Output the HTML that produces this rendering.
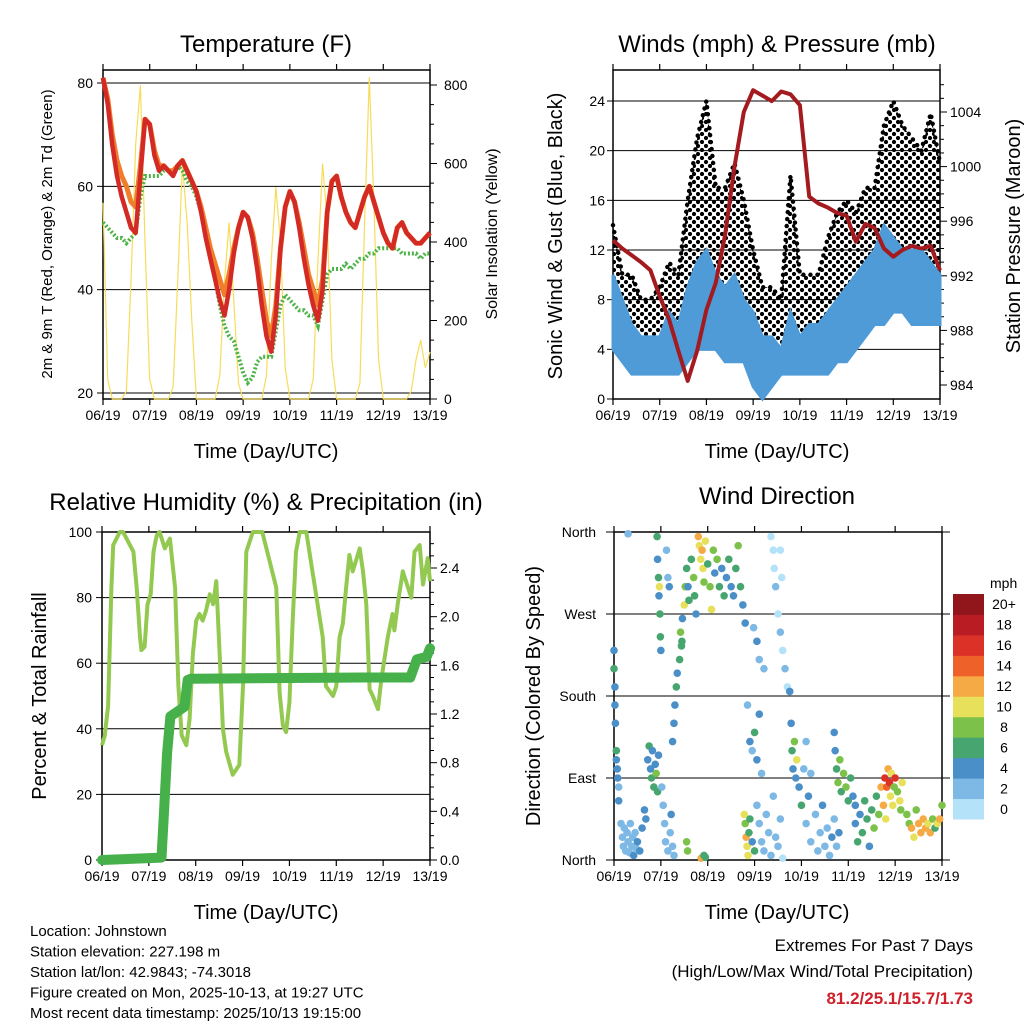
<!DOCTYPE html>
<html><head><meta charset="utf-8">
<style>
html,body{margin:0;padding:0;background:#fff;}
svg{display:block;font-family:"Liberation Sans",sans-serif;}
</style></head>
<body>
<svg id="c" width="1024" height="1024" viewBox="0 0 1024 1024" xmlns="http://www.w3.org/2000/svg">
<defs>
<pattern id="gustdots" patternUnits="userSpaceOnUse" width="8" height="8">
<circle cx="2" cy="2" r="2.1" fill="#000"/>
<circle cx="6" cy="6" r="2.1" fill="#000"/>
</pattern>
</defs>
<rect width="1024" height="1024" fill="#fff"/>
<text x="266" y="52" font-size="24" text-anchor="middle">Temperature (F)</text>
<text x="777" y="52" font-size="24" text-anchor="middle">Winds (mph) &amp; Pressure (mb)</text>
<text x="266" y="510" font-size="24" text-anchor="middle">Relative Humidity (%) &amp; Precipitation (in)</text>
<text x="777" y="504" font-size="24" text-anchor="middle">Wind Direction</text>
<text transform="translate(52,234) rotate(-90)" font-size="15" text-anchor="middle">2m &amp; 9m T (Red, Orange) &amp; 2m Td (Green)</text>
<text transform="translate(497,234) rotate(-90)" font-size="16" text-anchor="middle">Solar Insolation (Yellow)</text>
<text transform="translate(562,236) rotate(-90)" font-size="20" text-anchor="middle">Sonic Wind &amp; Gust (Blue, Black)</text>
<text transform="translate(1020,236) rotate(-90)" font-size="20" text-anchor="middle">Station Pressure (Maroon)</text>
<text transform="translate(46,696) rotate(-90)" font-size="20" text-anchor="middle">Percent &amp; Total Rainfall</text>
<text transform="translate(540,696) rotate(-90)" font-size="20" text-anchor="middle">Direction (Colored By Speed)</text>
<text x="266" y="458" font-size="20" text-anchor="middle">Time (Day/UTC)</text>
<text x="777" y="458" font-size="20" text-anchor="middle">Time (Day/UTC)</text>
<text x="266" y="919" font-size="20" text-anchor="middle">Time (Day/UTC)</text>
<text x="777" y="919" font-size="20" text-anchor="middle">Time (Day/UTC)</text>
<g font-size="15">
<text x="30" y="936">Location: Johnstown</text>
<text x="30" y="956.5">Station elevation: 227.198 m</text>
<text x="30" y="977">Station lat/lon: 42.9843; -74.3018</text>
<text x="30" y="997.5">Figure created on Mon, 2025-10-13, at 19:27 UTC</text>
<text x="30" y="1018">Most recent data timestamp: 2025/10/13 19:15:00</text>
</g>
<g text-anchor="end">
<text x="973" y="951" font-size="17">Extremes For Past 7 Days</text>
<text x="973" y="977" font-size="17">(High/Low/Max Wind/Total Precipitation)</text>
<text x="973" y="1004" font-size="17" font-weight="bold" fill="#d0202a">81.2/25.1/15.7/1.73</text>
</g>
</svg>
<script>
const days=["06/19","07/19","08/19","09/19","10/19","11/19","12/19","13/19"];
const tT=[0,.1,.2,.3,.4,.5,.6,.7,.8,.9,1,1.1,1.2,1.3,1.4,1.5,1.6,1.7,1.8,1.9,2,2.1,2.2,2.3,2.4,2.5,2.6,2.7,2.8,2.9,3,3.1,3.2,3.3,3.4,3.5,3.6,3.7,3.8,3.9,4,4.1,4.2,4.3,4.4,4.5,4.6,4.7,4.8,4.9,5,5.1,5.2,5.3,5.4,5.5,5.6,5.7,5.8,5.9,6,6.1,6.2,6.3,6.4,6.5,6.6,6.7,6.8,6.9,7];
const temp2m=[81,76,68,62,58,55,52,51,62,73,72,66,63,64,63,62,64,65,63,61,59,55,50,46,42,38,35,40,47,52,55,54,50,44,37,31,28,35,48,56,59,57,52,46,41,37,34,40,55,61,62,58,55,53,52,55,58,60,57,54,51,49,48,52,53,51,50,49,49,50,51];
const temp9m=[81,77,70,65,62,60,57,56,64,73,72,67,64,64,63,63,64,65,63,61,59,56,52,48,45,42,39,43,48,52,55,54,51,46,40,34,31,37,48,56,59,57,53,48,43,40,37,42,55,61,62,58,55,53,52,55,58,60,57,54,51,49,48,52,53,51,50,49,49,50,51];
const dewpt=[53,52,51,50,50,49,50,51,58,62,62,62,62,63,63,63,64,63,61,60,58,55,52,48,42,37,33,31,30,27,24,22,23,26,27,27,27,32,37,39,38,37,36,36,35,35,33,38,43,44,44,44,45,44,45,46,46,47,47,48,48,48,48,48,47,47,47,47,46,47,47];
const solar=[500,50,0,0,0,20,300,650,800,400,50,0,0,0,0,30,300,600,450,200,0,0,0,0,0,60,300,450,250,40,0,0,0,0,0,60,350,540,400,80,0,0,0,0,0,50,350,600,450,100,0,0,0,0,0,40,450,820,500,100,0,0,0,0,0,0,20,100,150,80,120];
const tW=[0,.2,.4,.6,.8,1,1.2,1.4,1.6,1.8,2,2.2,2.4,2.6,2.8,3,3.2,3.4,3.6,3.8,4,4.2,4.4,4.6,4.8,5,5.2,5.4,5.6,5.8,6,6.2,6.4,6.6,6.8,7];
const windLo=[4,3,2,2,2,2,2,2,3,4,4,4,3,3,3,1,0,1,2,2,2,2,2,2,3,3,4,5,6,6,7,7,6,6,6,6];
const windHi=[10,8,6,5,5,5,7,6,9,11,12,10,9,10,8,7,5,5,4,7,5,6,6,7,8,9,10,11,12,14,13,12,12,12,11,10];
const gustLo=[6,5,3,3,2,3,3,3,6,8,8,7,6,6,5,3,2,2,3,3,2,3,3,4,5,5,7,8,9,10,10,10,9,9,9,8];
const gustHi=[14,10,10,8,8,9,11,10,16,21,24,17,17,19,16,12,9,9,8,18,10,10,10,13,15,16,15,17,17,22,24,22,21,20,23,19];
const pressure=[994.6,994.0,993.5,993.0,992.4,990.5,988.8,986.5,984.3,986.5,989.5,991.5,995,1000,1004,1005.6,1005.2,1004.8,1005.5,1005.3,1004.5,997.8,997.3,997.0,996.6,996.4,994.5,995.8,995.5,994.0,993.4,993.9,994.2,994.0,994.2,992.4];
const rhT=[0,.06,.13,.2,.24,.38,.45,.67,.74,.81,.84,.91,.97,1.04,1.1,1.14,1.17,1.23,1.34,1.45,1.56,1.63,1.7,1.8,1.87,1.94,2.01,2.08,2.15,2.22,2.3,2.37,2.44,2.51,2.58,2.65,2.79,2.93,3.01,3.08,3.15,3.22,3.32,3.42,3.72,3.79,3.86,3.93,4.0,4.07,4.14,4.22,4.36,4.71,4.78,4.93,5.0,5.07,5.14,5.21,5.28,5.35,5.5,5.57,5.64,5.71,5.78,5.89,5.96,6.1,6.2,6.24,6.31,6.42,6.6,6.67,6.78,6.85,6.95,7.0];
const rhVals=[35,38,47,83,96,100,100,94,83,68,64,65,78,81,94,97,99,100,95,98,83,53,38,35,43,63,73,75,73,76,81,78,85,63,40,33,26,29,53,94,97,100,100,100,83,51,41,39,48,73,94,100,100,68,53,50,53,68,72,83,93,88,95,88,78,52,50,46,55,68,75,70,78,88,80,94,96,84,92,85];
const prT=[0,1.27,1.32,1.39,1.46,1.76,1.83,1.9,5.54,6.58,6.72,6.93,7.0];
const precip=[0,0.02,0.38,0.88,1.18,1.26,1.48,1.49,1.50,1.50,1.65,1.67,1.74];
const wdT=[0,0,.02,.02,.03,.05,.05,.07,.08,.1,.1,.15,.18,.2,.22,.25,.28,.3,.33,.35,.38,.4,.42,.45,.48,.5,.55,.6,.65,.68,.3,.72,.75,.78,.8,.82,.85,.88,.9,.93,.95,.92,.93,.95,.96,.97,.98,.99,1.0,1.02,1.05,1.08,1.1,1.15,1.2,1.22,1.25,1.28,1.12,1.15,1.18,1.25,1.28,1.3,1.33,1.35,1.4,1.45,1.42,1.44,1.46,1.5,1.52,1.55,1.58,1.6,1.65,1.7,1.72,1.75,1.55,1.57,1.8,1.82,1.85,1.88,1.9,1.92,1.95,2.0,2.05,2.08,1.86,1.92,1.95,2.12,2.15,2.2,2.25,2.3,2.35,2.4,2.45,2.5,2.55,2.6,2.65,2.7,2.75,2.8,2.78,2.8,2.82,2.84,2.86,2.88,2.9,2.95,3.0,2.85,2.9,2.95,3.0,3.05,3.1,3.15,2.98,3.05,3.1,3.2,3.05,3.1,3.15,3.2,3.25,3.3,3.35,3.4,3.45,3.5,3.55,3.6,3.35,3.4,3.42,3.45,3.5,3.55,3.6,3.65,3.7,3.55,3.58,3.75,3.78,3.8,3.82,3.85,3.88,3.9,3.95,4.0,4.05,4.1,4.15,4.2,4.1,4.2,4.3,4.35,4.4,4.45,4.5,4.55,4.6,4.65,4.7,4.75,4.8,4.7,4.72,4.75,4.78,4.82,4.85,4.9,4.95,5.0,5.05,5.1,5.15,5.15,5.2,5.25,5.3,5.35,5.4,5.45,5.5,5.55,5.6,5.65,5.7,5.75,5.8,5.78,5.82,5.85,5.88,5.9,5.92,5.95,5.98,6.0,6.05,6.1,6.12,6.15,6.25,6.3,6.35,6.4,6.45,6.5,6.55,6.6,6.65,6.7,6.75,6.8,6.85,6.9,6.95,7.0];
const wdDir=[230,210,190,170,150,120,110,100,90,80,65,40,25,15,35,10,30,20,8,40,15,25,5,30,12,20,10,35,55,45,358,110,125,100,90,120,80,105,95,75,115,355,330,310,290,300,270,245,230,80,60,40,20,10,30,50,15,5,340,310,300,130,150,170,190,205,220,240,250,235,265,280,300,320,300,285,330,310,290,270,20,10,355,345,330,340,320,305,350,325,300,275,2,5,3,340,315,330,300,320,290,310,330,300,290,320,345,300,280,260,50,40,25,15,5,30,45,20,10,170,130,120,140,110,160,95,255,240,220,210,60,40,20,10,50,30,5,70,25,15,45,2,355,340,320,300,270,250,230,210,190,340,310,185,150,120,100,130,90,110,80,60,100,130,70,95,40,20,50,10,30,60,15,35,5,25,45,15,30,140,120,100,85,110,75,95,80,65,90,70,60,40,20,50,30,65,45,15,55,35,70,50,80,60,45,90,80,100,85,70,95,60,80,90,75,65,55,85,50,40,35,25,55,40,30,45,35,40,30,45,35,40,45,60];
const wdSpd=[4,6,4,4,4,6,4,4,4,2,4,2,2,2,2,2,2,2,2,2,2,2,4,2,2,4,4,4,4,4,2,4,6,4,6,4,6,4,8,6,4,6,4,6,4,10,6,6,4,2,2,2,2,2,2,4,2,2,2,2,4,4,4,4,6,4,6,6,8,6,4,10,8,6,4,6,6,8,6,4,8,8,12,10,10,12,10,8,10,6,8,10,12,6,6,8,4,8,6,4,6,4,6,4,4,6,8,6,4,4,10,8,12,10,10,6,6,4,6,2,4,2,6,4,4,2,2,4,2,2,2,2,2,2,2,2,2,2,2,2,2,0,0,0,0,2,0,2,0,2,0,0,0,4,4,6,4,8,4,10,4,6,2,2,4,2,2,2,2,2,2,4,2,2,2,4,2,2,4,4,4,6,8,8,6,8,8,6,6,4,4,4,6,4,6,6,6,4,6,8,6,8,12,12,10,16,14,12,16,10,10,10,8,16,8,10,8,10,8,8,12,10,8,12,12,12,12,10,12,8,6,10,12,8];
const cbLabels=["0","2","4","6","8","10","12","14","16","18","20+"];
const cbColors=["#b4e2f8","#7db9e4","#4a8fc8","#47a66f","#7cc24a","#e7e05b","#f6aa46","#ee6129","#dc3127","#ba1c24","#90161b"];

const svg=document.getElementById('c');
const NS='http://www.w3.org/2000/svg';
function el(tag,attrs,parent){const e=document.createElementNS(NS,tag);for(const k in attrs)e.setAttribute(k,attrs[k]);(parent||svg).appendChild(e);return e;}
function txt(x,y,s,size,anchor,parent){const t=el('text',{x:x,y:y,'font-size':size,'text-anchor':anchor||'middle'},parent);t.textContent=s;return t;}
function lin(d0,d1,r0,r1){return v=>r0+(v-d0)*(r1-r0)/(d1-d0);}
function poly(xs,ys,fx,fy){return xs.map((v,i)=>fx(v).toFixed(1)+','+fy(ys[i]).toFixed(1)).join(' ');}

function frame(x0,x1,y0,y1,name){
  const g=el('g',{});
  
  
  el('rect',{x:x0,y:y0,width:x1-x0,height:y1-y0,fill:'none',stroke:'#000','stroke-width':1.5},g);
  const fx=lin(0,7,x0,x1);
  for(let i=0;i<days.length;i++){
    const x=fx(i);
    el('line',{x1:x,x2:x,y1:y1,y2:y1+6,stroke:'#000','stroke-width':1.2},g);
    el('line',{x1:x,x2:x,y1:y0,y2:y0-6,stroke:'#000','stroke-width':1.2},g);
    const t=txt(x,y1+21,days[i],14,'middle',g);
    
    
  }
  return fx;
}
function hgrid(x0,x1,y,g){el('line',{x1:x0,x2:x1,y1:y,y2:y,stroke:'#000','stroke-width':1},g);}

// Panel 1: temperature
(function(){
  const x0=103,x1=430,y0=70,y1=399;
  const fx=frame(x0,x1,y0,y1,'temperature');
  const fy=lin(20,80,393,83);
  const fs=lin(0,800,399,85);
  const g=el('g',{});
  
  
  [20,40,60,80].forEach(v=>{hgrid(x0,x1,fy(v),g);el('line',{x1:x0,x2:x0-6,y1:fy(v),y2:fy(v),stroke:'#000'},g);txt(x0-10,fy(v)+5,String(v),14,'end',g);});
  for(let v=0;v<=800;v+=50){el('line',{x1:x1,x2:x1+(v%200?4:7),y1:fs(v),y2:fs(v),stroke:'#000'},g);}
  [0,200,400,600,800].forEach(v=>txt(x1+14,fs(v)+5,String(v),14,'start',g));
  const s=el('polyline',{points:poly(tT,solar,fx,fs),fill:'none',stroke:'#f7dc5a','stroke-width':1.2},g);
  
  const d=el('polyline',{points:poly(tT,dewpt,fx,fy),fill:'none',stroke:'#4cb347','stroke-width':4,'stroke-dasharray':'2 2'},g);
  
  const o=el('polyline',{points:poly(tT,temp9m,fx,fy),fill:'none',stroke:'#f07d2a','stroke-width':5,'stroke-linejoin':'round'},g);
  
  const r=el('polyline',{points:poly(tT,temp2m,fx,fy),fill:'none',stroke:'#d42a25','stroke-width':4.5,'stroke-linejoin':'round'},g);
  
})();

// Panel 2: winds
(function(){
  const x0=613,x1=940,y0=70,y1=399;
  const fx=frame(x0,x1,y0,y1,'winds');
  const fy=lin(0,24,399,101);
  const fp=lin(984,1004,385,112);
  const g=el('g',{});
  
  
  [0,4,8,12,16,20,24].forEach(v=>{if(v>0)hgrid(x0,x1,fy(v),g);el('line',{x1:x0,x2:x0-6,y1:fy(v),y2:fy(v),stroke:'#000'},g);txt(x0-8,fy(v)+5,String(v),14,'end',g);});
  for(let v=984;v<=1006;v++){el('line',{x1:x1,x2:x1+(v%4?4:7),y1:fp(v),y2:fp(v),stroke:'#000'},g);}
  [984,988,992,996,1000,1004].forEach(v=>txt(x1+10,fp(v)+5,String(v),14,'start',g));
  const gpts=tW.map((t,i)=>fx(t)+','+fy(gustHi[i])).concat(tW.slice().reverse().map((t,j)=>{const i=tW.length-1-j;return fx(t)+','+fy(gustLo[i]);})).join(' ');
  const gb=el('polygon',{points:gpts,fill:'url(#gustdots)',stroke:'none'},g);
  
  const gh=el('polyline',{points:poly(tW,gustHi,fx,fy),fill:'none',stroke:'#000','stroke-width':4.5,'stroke-dasharray':'0 7','stroke-linecap':'round'},g);
  
  const pts=tW.map((t,i)=>fx(t)+','+fy(windHi[i])).concat(tW.slice().reverse().map((t,j)=>{const i=tW.length-1-j;return fx(t)+','+fy(windLo[i]);})).join(' ');
  const b=el('polygon',{points:pts,fill:'#4f9bd8',stroke:'#4f9bd8','stroke-width':3},g);
  
  const p=el('polyline',{points:poly(tW,pressure,fx,fp),fill:'none',stroke:'#a31b1f','stroke-width':4,'stroke-linejoin':'round'},g);
  
})();

// Panel 3: RH & precip
(function(){
  const x0=102,x1=430,y0=532,y1=860;
  const fx=frame(x0,x1,y0,y1,'humidity');
  const fy=lin(0,100,860,532);
  const fr=lin(0,2.4,860,568);
  const g=el('g',{});
  
  
  [0,20,40,60,80,100].forEach(v=>{if(v>0&&v<100)hgrid(x0,x1,fy(v),g);el('line',{x1:x0,x2:x0-6,y1:fy(v),y2:fy(v),stroke:'#000'},g);txt(x0-10,fy(v)+5,String(v),14,'end',g);});
  for(let v=0;v<=2.6001;v+=0.1){el('line',{x1:x1,x2:x1+(Math.round(v*10)%4?4:7),y1:fr(v),y2:fr(v),stroke:'#000'},g);}
  [0,0.4,0.8,1.2,1.6,2.0,2.4].forEach(v=>txt(x1+10,fr(v)+5,v.toFixed(1),14,'start',g));
  const rh=el('polyline',{points:poly(rhT,rhVals,fx,fy),fill:'none',stroke:'#93c951','stroke-width':4,'stroke-linejoin':'round'},g);
  
  const pr=el('polyline',{points:poly(prT,precip,fx,fr),fill:'none',stroke:'#46b04a','stroke-width':10,'stroke-linejoin':'round','stroke-linecap':'round'},g);
  
})();

// Panel 4: wind direction
(function(){
  const x0=614,x1=942,y0=532,y1=860;
  const fx=frame(x0,x1,y0,y1,'direction');
  const fy=lin(0,360,860,532);
  const g=el('g',{});
  
  
  const names=['North','East','South','West','North'];
  [0,90,180,270,360].forEach((v,i)=>{hgrid(x0-8,x1+8,fy(v),g);txt(x0-18,fy(v)+5,names[i],14,'end',g);});
  const n=Math.min(wdT.length,wdDir.length,wdSpd.length);
  for(let i=0;i<n;i++){
    const idx=Math.min(10,Math.floor(wdSpd[i]/2));
    const c=el('circle',{cx:fx(wdT[i]),cy:fy(wdDir[i]),r:3.8,fill:cbColors[idx]},g);
    
    
  }
  const cb=el('g',{});
  
  
  txt(990,588,'mph',14,'start',cb);
  const h=(819-594)/11;
  cbColors.forEach((col,i)=>{
    const y=819-(i+1)*h;
    el('rect',{x:953,y:y,width:31,height:h+0.5,fill:col},cb);
    txt(1004,y+h/2+5,cbLabels[i],14,'middle',cb);
  });
})();
</script>
</body></html>
